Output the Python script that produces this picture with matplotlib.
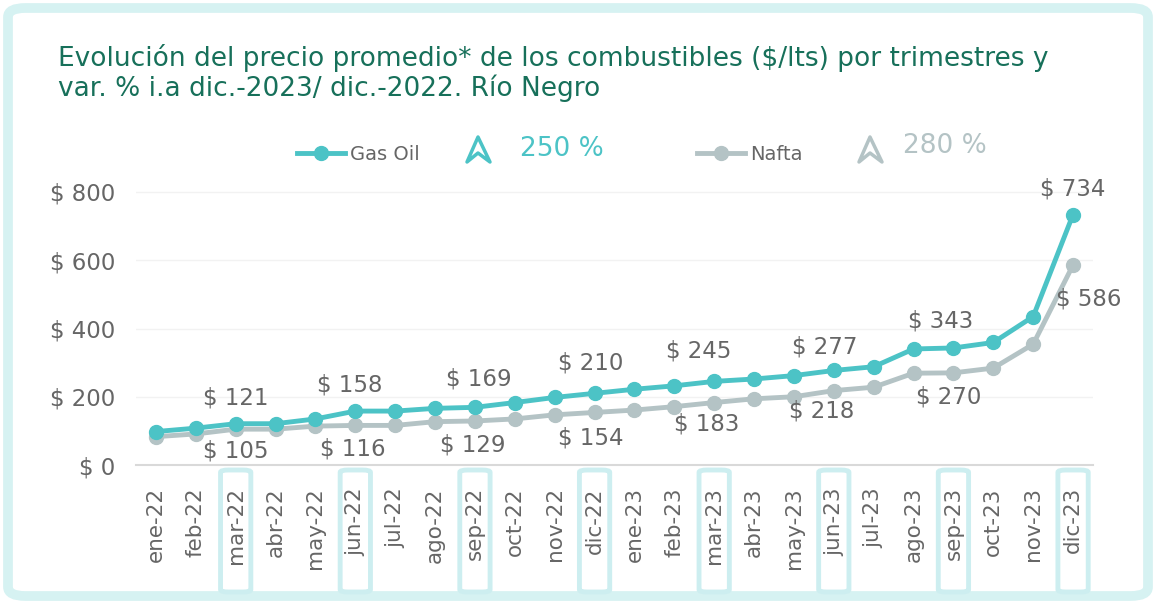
import matplotlib.pyplot as plt
from matplotlib.patches import FancyBboxPatch, Polygon
from matplotlib.lines import Line2D
from matplotlib.transforms import blended_transform_factory
import numpy as np

meses = ["ene-22", "feb-22", "mar-22", "abr-22", "may-22", "jun-22", "jul-22", "ago-22",
         "sep-22", "oct-22", "nov-22", "dic-22", "ene-23", "feb-23", "mar-23", "abr-23",
         "may-23", "jun-23", "jul-23", "ago-23", "sep-23", "oct-23", "nov-23", "dic-23"]
gas_oil = [98, 108, 121, 121, 135, 158, 158, 166, 169, 183, 198, 210,
           222, 232, 245, 252, 262, 277, 288, 340, 343, 359, 435, 734]
nafta = [83, 91, 105, 105, 114, 116, 116, 127, 129, 135, 147, 154,
         161, 171, 183, 194, 200, 218, 228, 269, 270, 284, 354, 586]
trimestres = [2, 5, 8, 11, 14, 17, 20, 23]
var_gas_oil = "250 %"
var_nafta = "280 %"

C_GAS = "#4cc3c6"
C_NAF = "#b4c3c5"
C_TXT = "#666666"
C_TIT = "#17705a"
C_BOX = "#cdeef0"

W, H = 1156, 602
fig = plt.figure(figsize=(W / 100, H / 100), dpi=100)
plt.rcParams['font.family'] = ['DejaVu Sans']

def fx(px):
    return px / W

def fy(py):
    return 1 - py / H

# marco exterior
fig.add_artist(FancyBboxPatch((fx(8), fy(596)), fx(1140), 588 / H,
                              boxstyle="round,pad=0,rounding_size=0.015",
                              transform=fig.transFigure, fill=False,
                              ec="#d6f2f2", lw=7))

fig.text(fx(58), fy(44), "Evolución del precio promedio* de los combustibles ($/lts) por trimestres y\n"
         "var. % i.a dic.-2023/ dic.-2022. Río Negro",
         color=C_TIT, fontsize=19, va="top", ha="left", linespacing=1.1)

ylim_top = 850
ax = fig.add_axes([fx(136), fy(465), fx(1093 - 136), ylim_top * 0.34125 / H])
x = np.arange(len(meses))
ax.plot(x, nafta, color=C_NAF, lw=3.5, marker="o", ms=10, zorder=3)
ax.plot(x, gas_oil, color=C_GAS, lw=3.5, marker="o", ms=10, zorder=4)
ax.set_xlim(-0.5, len(meses) - 0.5)
ax.set_ylim(0, ylim_top)
ax.set_yticks([0, 200, 400, 600, 800])
ax.set_yticklabels(["$ %d" % v for v in [0, 200, 400, 600, 800]], fontsize=16.5, color=C_TXT)
ax.set_xticks(x)
ax.set_xticklabels(meses, rotation=90, fontsize=15.5, color=C_TXT)
ax.tick_params(length=0)
ax.tick_params(axis="y", pad=15)
ax.tick_params(axis="x", pad=16)
ax.grid(axis="y", color="#f2f2f2", lw=1)
ax.set_axisbelow(True)
for s in ["top", "right", "left"]:
    ax.spines[s].set_visible(False)
ax.spines["bottom"].set_color("#d9d9d9")
ax.spines["bottom"].set_linewidth(1.5)

# etiquetas de datos (offsets en pixeles)
off_gas = [(0, 26), (-6, 26), (4, 28), (-4, 30), (-15, 30), (-9, 23), (-13, 27), (0, 26)]
off_naf = [(0, -22), (-3, -24), (-2, -24), (-4, -26), (-8, -21), (-12, -20), (-5, -24), (16, -34)]
for k, i in enumerate(trimestres):
    dx, dy = off_gas[k]
    ap = dict(arrowstyle="-", color="#a6a6a6", lw=1, shrinkA=8, shrinkB=5) if k in (3, 4) else None
    ax.annotate("$ %d" % gas_oil[i], (i, gas_oil[i]), xytext=(dx * 0.72, dy * 0.72),
                textcoords="offset points", ha="center", va="center",
                fontsize=16.5, color=C_TXT, arrowprops=ap, annotation_clip=False)
    dx, dy = off_naf[k]
    ax.annotate("$ %d" % nafta[i], (i, nafta[i]), xytext=(dx * 0.72, dy * 0.72),
                textcoords="offset points", ha="center", va="center",
                fontsize=16.5, color=C_TXT, annotation_clip=False)

# recuadros en los meses de cierre de trimestre
tr = blended_transform_factory(ax.transData, fig.transFigure)
for i in trimestres:
    fig.add_artist(FancyBboxPatch((i - 0.38, fy(592)), 0.76, 122 / H,
                                  boxstyle="round,pad=0,rounding_size=0.2",
                                  transform=tr, fill=False, ec=C_BOX, lw=3.5,
                                  mutation_aspect=0.02))

# leyenda
def leyenda(x0, texto, color, xflecha, var, xvar, yvar, cvar):
    fig.add_artist(Line2D([fx(x0), fx(x0 + 48)], [fy(153), fy(153)], color=color, lw=3.5,
                          transform=fig.transFigure))
    fig.add_artist(Line2D([fx(x0 + 24)], [fy(153)], color=color, marker="o", ms=10,
                          transform=fig.transFigure))
    fig.text(fx(x0 + 53), fy(154), texto, color=C_TXT, fontsize=14, va="center", ha="left")
    pts = [(xflecha, 162), (xflecha + 11, 137), (xflecha + 23, 162), (xflecha + 11, 153)]
    fig.add_artist(Polygon([(fx(a), fy(b)) for a, b in pts], closed=True, fill=False,
                           ec=cvar, lw=2.5, joinstyle="round", transform=fig.transFigure))
    fig.text(fx(xvar), fy(yvar), var, color=cvar, fontsize=19, va="center", ha="left")

leyenda(297, "Gas Oil", C_GAS, 467, var_gas_oil, 520, 149, C_GAS)
leyenda(697, "Nafta", C_NAF, 859, var_nafta, 903, 146, C_NAF)

fig.savefig("out.png", dpi=100)
